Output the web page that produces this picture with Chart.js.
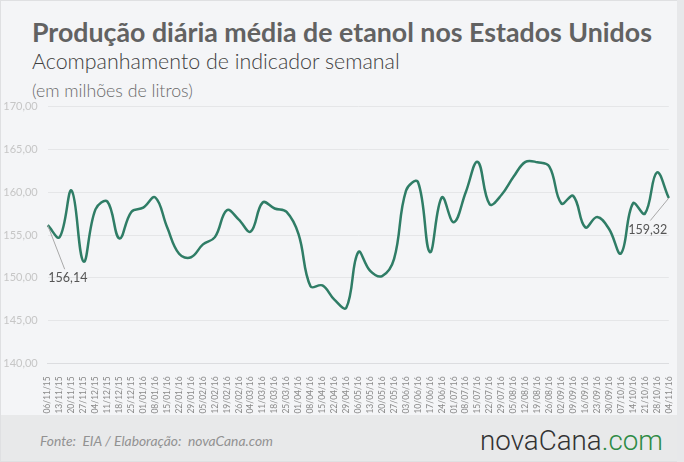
<!DOCTYPE html>
<html><head><meta charset="utf-8">
<script src="https://cdn.jsdelivr.net/npm/chart.js@4.4.0/dist/chart.umd.min.js"></script>
<style>
html,body{margin:0;padding:0;}
body{width:684px;height:462px;overflow:hidden;background:#f4f5f7;font-family:Lato, sans-serif;position:relative;}
#card{position:absolute;left:0;top:0;width:684px;height:462px;box-sizing:border-box;border:1px solid #dfe0e2;background:#f4f5f7;}
#rightband{position:absolute;left:677px;top:0;width:7px;height:462px;background:#e7e8ea;}
#footer{position:absolute;left:1px;top:415px;width:676px;height:46px;background:#e8e9ea;}
.t{position:absolute;white-space:nowrap;line-height:1;}
#title{left:32px;top:19px;font-size:24px;font-weight:700;color:#626262;}
#subtitle{left:32px;top:51px;font-size:19px;font-weight:300;color:#3f3f3f;}
#unit{left:32px;top:82px;font-size:14px;font-weight:300;color:#6a6a6a;}
#source{left:40px;top:434px;font-size:14px;font-style:italic;color:#929292;}
#logo{left:480px;top:427px;font-size:25px;font-weight:300;color:#333;font-family:Roboto, sans-serif;}
#logo span{color:#2e8b45;}
#wrap{position:absolute;left:0;top:0;width:684px;height:462px;}
</style>
</head><body>
<div id="card"></div>
<div id="rightband"></div>
<div id="footer"></div>
<div class="t" id="title">Produção diária média de etanol nos Estados Unidos</div>
<div class="t" id="subtitle">Acompanhamento de indicador semanal</div>
<div class="t" id="unit">(em milhões de litros)</div>
<div class="t" id="source">Fonte:&nbsp; EIA / Elaboração:&nbsp; novaCana.com</div>
<div class="t" id="logo">novaCana<span>.com</span></div>
<div id="wrap"><canvas id="c" width="684" height="462"></canvas></div>
<script>
const categories = ["06/11/15","13/11/15","20/11/15","27/11/15","04/12/15","11/12/15","18/12/15","25/12/15","01/01/16","08/01/16","15/01/16","22/01/16","29/01/16","05/02/16","12/02/16","19/02/16","26/02/16","04/03/16","11/03/16","18/03/16","25/03/16","01/04/16","08/04/16","15/04/16","22/04/16","29/04/16","06/05/16","13/05/16","20/05/16","27/05/16","03/06/16","10/06/16","17/06/16","24/06/16","01/07/16","08/07/16","15/07/16","22/07/16","29/07/16","05/08/16","12/08/16","19/08/16","26/08/16","02/09/16","09/09/16","16/09/16","23/09/16","30/09/16","07/10/16","14/10/16","21/10/16","28/10/16","04/11/16"];
const production = [156.14,154.75,160.2,151.9,158.0,158.9,154.6,157.7,158.2,159.4,155.9,152.8,152.4,153.9,154.75,157.9,156.8,155.4,158.8,158.1,157.7,155.1,149.0,149.1,147.45,146.5,153.0,150.8,150.2,152.2,160.2,161.2,153.0,159.4,156.5,160.0,163.55,158.6,159.7,161.8,163.55,163.5,163.0,158.7,159.56,155.9,157.1,155.7,152.85,158.7,157.5,162.3,159.32];
const yMin = 140, yMax = 170, yStep = 5;

function fitWidth(id, w){
  const el = document.getElementById(id);
  const fs = parseFloat(getComputedStyle(el).fontSize);
  const cur = el.getBoundingClientRect().width;
  if (cur > 0) el.style.fontSize = (fs * w / cur) + 'px';
}
fitWidth('title', 620);
fitWidth('subtitle', 368);
fitWidth('unit', 161);
fitWidth('source', 233);
fitWidth('logo', 183);

const fmt = v => v.toFixed(2).replace('.', ',');

const annot = {
  id: 'annot',
  afterDatasetsDraw(chart){
    const ctx = chart.ctx;
    const meta = chart.getDatasetMeta(0);
    const p0 = meta.data[0], pN = meta.data[meta.data.length - 1];
    ctx.save();
    ctx.strokeStyle = '#a8a8a8';
    ctx.lineWidth = 1;
    ctx.beginPath();
    ctx.moveTo(p0.x, p0.y); ctx.lineTo(p0.x + 17, p0.y + 44);
    ctx.moveTo(pN.x, pN.y); ctx.lineTo(pN.x - 18.5, pN.y + 22.5);
    ctx.stroke();
    ctx.fillStyle = '#555';
    ctx.font = '12.5px Lato';
    ctx.textBaseline = 'middle';
    ctx.textAlign = 'left';
    ctx.fillText(fmt(production[0]), p0.x + 0.6, p0.y + 52.5);
    ctx.textAlign = 'right';
    ctx.fillText(fmt(production[production.length - 1]), pN.x - 1.5, pN.y + 31.7);
    ctx.restore();
  }
};

new Chart(document.getElementById('c'), {
  type: 'line',
  data: {
    labels: categories,
    datasets: [{
      data: production,
      borderColor: '#2f7d66',
      borderWidth: 2.5,
      tension: 0.4,
      pointRadius: 0,
      fill: false
    }]
  },
  options: {
    responsive: false,
    animation: false,
    devicePixelRatio: 1,
    layout: { padding: { top: 106.7, left: 0, right: 12.3, bottom: 46.7 } },
    plugins: { legend: { display: false }, tooltip: { enabled: false } },
    scales: {
      x: {
        ticks: { autoSkip: false, minRotation: 90, maxRotation: 90, color: '#8a8a8a', font: { family: 'Lato', size: 8.5 }, padding: 5 },
        grid: { display: false },
        border: { display: true, color: '#dcdde0' },
        afterFit(s){ s.height = 52; }
      },
      y: {
        min: yMin, max: yMax,
        ticks: { stepSize: yStep, callback: v => fmt(v), color: '#c6c6c6', font: { family: 'Lato', size: 11 }, padding: 10 },
        grid: { color: '#e5e6e8', drawTicks: false },
        border: { display: false },
        afterFit(s){ s.width = 47.7; }
      }
    }
  },
  plugins: [annot]
});
</script>
</body></html>
